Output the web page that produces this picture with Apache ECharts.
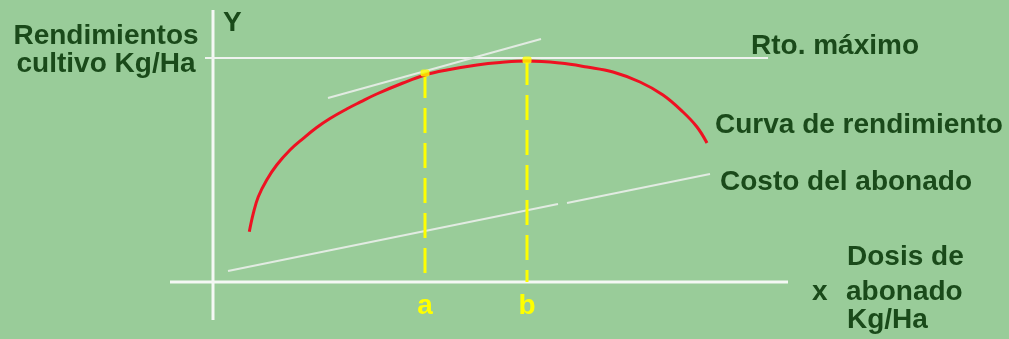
<!DOCTYPE html>
<html>
<head>
<meta charset="utf-8">
<script src="https://cdn.jsdelivr.net/npm/echarts@6/dist/echarts.min.js"></script>
<style>
  html, body { margin: 0; padding: 0; background: #99cc99; }
  #chart { width: 1009px; height: 339px; }
</style>
</head>
<body>
<div id="chart"></div>
<script>
// Dosis de abonado (x) y rendimiento del cultivo (y), en unidades relativas
const curvaRendimiento = [
  [3.63, 5.03], [4.03, 6.87], [4.53, 8.53], [5.37, 10.2], [6.37, 11.7],
  [7.7, 13.2], [9.03, 14.37], [10.37, 15.45], [11.7, 16.35], [13.37, 17.3],
  [14.7, 17.98], [16.37, 18.8], [19.0, 19.9], [21.2, 20.7], [23.4, 21.2],
  [26.4, 21.7], [28.7, 21.95], [31.4, 22.1], [34.7, 21.9], [37.4, 21.5],
  [40.0, 21.0], [42.7, 20.0], [45.0, 18.7], [47.0, 17.0], [48.4, 15.5],
  [49.4, 13.9]
];
// Costo del abonado: recta dibujada en dos tramos
const costoAbonado = [
  [[1.5, 1.1], [34.5, 7.8]],
  [[35.4, 7.9], [49.7, 10.8]]
];
// Tangente a la curva en la dosis a
const tangente = [[11.5, 18.4], [32.8, 24.3]];
// Rendimiento máximo
const rtoMaximo = 22.4;
const rtoMaximoTramo = [-0.8, 55.5];
// Dosis marcadas: a (óptimo económico) y b (máximo rendimiento)
const dosisMarcadas = [
  { nombre: 'a', x: 21.2, y: 20.9 },
  { nombre: 'b', x: 31.4, y: 22.2 }
];
// Extensión de los ejes
const ejeXTramo = [-4.3, 57.5];
const ejeYTramo = [-3.8, 27.2];

const verde = '#1a4a1a';
const fuente = 'bold 28px "Liberation Sans", Arial, sans-serif';

const series = [];
const linea = (data, color, width, extra) => Object.assign({
  type: 'line', data, showSymbol: false, symbol: 'none', silent: true,
  lineStyle: { color, width }, z: 2
}, extra || {});

// Ejes
series.push(linea([[ejeXTramo[0], 0], [ejeXTramo[1], 0]], '#f4f8f4', 3));
series.push(linea([[0, ejeYTramo[0]], [0, ejeYTramo[1]]], '#f4f8f4', 3));
// Rendimiento máximo
series.push(linea([[rtoMaximoTramo[0], rtoMaximo], [rtoMaximoTramo[1], rtoMaximo]], '#eef3ee', 2));
// Tangente
series.push(linea(tangente, '#e2ebe2', 2));
// Costo del abonado
costoAbonado.forEach(t => series.push(linea(t, '#e2ebe2', 2)));
// Verticales discontinuas
dosisMarcadas.forEach(d => series.push(linea([[d.x, d.y], [d.x, 0]], '#ffff00', 3, {
  lineStyle: { color: '#ffff00', width: 3, type: [25, 10] }, z: 3
})));
// Curva de rendimiento
series.push(linea(curvaRendimiento, '#ee1122', 3, { smooth: 0.4, z: 4 }));
// Puntos a y b sobre la curva
series.push({
  type: 'scatter', silent: true, z: 5,
  data: dosisMarcadas.map(d => [d.x, d.y]),
  symbol: 'roundRect', symbolSize: [9, 7],
  itemStyle: { color: '#ffff00' }
});

const chart = echarts.init(document.getElementById('chart'), null, { renderer: 'canvas' });
chart.setOption({
  backgroundColor: '#99cc99',
  animation: false,
  grid: { left: 163, right: 196, top: 2, bottom: 7 },
  xAxis: { type: 'value', min: -5, max: 60, show: false },
  yAxis: { type: 'value', min: -5, max: 28, show: false },
  series
});

const txt = (text, x, y, align, fill) => ({
  type: 'text', silent: true, z: 10,
  style: { text, x, y, font: fuente, fill: fill || verde, textAlign: align || 'left', textVerticalAlign: 'middle' }
});

const etiquetas = [
  txt('Rendimientos', 106, 36, 'center'),
  txt('cultivo Kg/Ha', 106, 64, 'center'),
  txt('Y', 223, 23.5),
  txt('Rto. máximo', 751, 46.5),
  txt('Curva de rendimiento', 715, 125.5),
  txt('Costo del abonado', 720, 182.5),
  txt('x', 812, 292),
  txt('Dosis de', 847, 257.5),
  txt('abonado', 846, 292),
  txt('Kg/Ha', 847, 320.5)
];
dosisMarcadas.forEach(d => {
  const p = chart.convertToPixel({ gridIndex: 0 }, [d.x, 0]);
  etiquetas.push(txt(d.nombre, p[0], p[1] + 24, 'center', '#ffff00'));
});
chart.setOption({ graphic: etiquetas });
</script>
</body>
</html>
